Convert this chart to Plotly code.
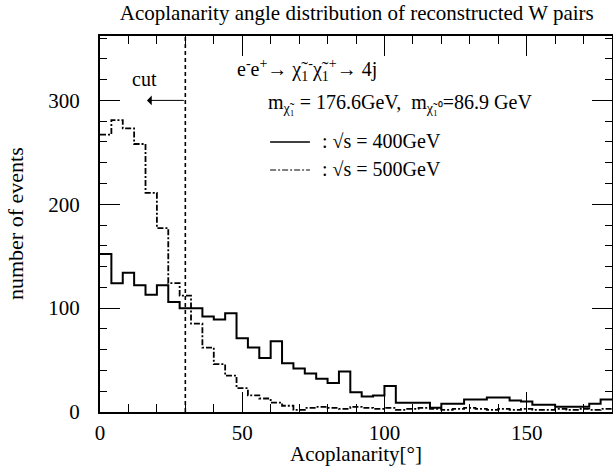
import plotly.graph_objects as go

# ---------------- data ----------------
bin_width = 4  # degrees
n_bins = 45
edges = [i * bin_width for i in range(n_bins + 1)]

counts_400 = [152, 124, 134, 122, 113, 122, 106, 100, 100, 92,
              89, 95, 71, 62, 52, 68, 47, 42, 37, 32,
              28, 39, 19, 15, 16, 25, 9, 9, 9, 4,
              8, 8, 12, 12, 14, 14, 11, 10, 7, 7,
              5, 5, 5, 8, 12]

counts_500 = [267, 281, 273, 258, 211, 177, 124, 112, 85, 62,
              46, 35, 23, 16, 13, 9, 6, 2, 4, 5,
              4, 3, 5, 4, 3, 4, 2, 3, 4, 3,
              2, 3, 4, 3, 2, 3, 2, 3, 2, 2,
              3, 2, 3, 2, 3]

cut_value = 30
x_ticks = [0, 50, 100, 150]
y_ticks = [0, 100, 200, 300]

FONT = "Liberation Serif, Times New Roman, serif"
TXT = 20

fig = go.Figure()

fig.add_trace(go.Scatter(
    x=edges, y=counts_400 + [counts_400[-1]], mode="lines",
    line=dict(shape="hv", color="black", width=2), showlegend=False))

fig.add_trace(go.Scatter(
    x=edges, y=counts_500 + [counts_500[-1]], mode="lines",
    line=dict(shape="hv", color="black", width=1.8, dash="6px,2px,2px,2px"),
    showlegend=False))

# cut line
fig.add_shape(type="line", x0=cut_value, x1=cut_value, y0=0, y1=1, yref="paper",
              line=dict(color="black", width=1.6, dash="4px,3px"))

# cut arrow
fig.add_annotation(x=16.5, y=300, ax=cut_value, ay=300, axref="x", ayref="y",
                   showarrow=True, arrowhead=1, arrowsize=1.6, arrowwidth=1,
                   arrowcolor="black", text="")
fig.add_annotation(x=15.8, y=321, text="cut", showarrow=False,
                   font=dict(family=FONT, size=TXT, color="black"))

# process text
fig.add_annotation(x=47.5, y=329, xanchor="left", showarrow=False,
                   text="e<sup>-</sup>e<sup>+</sup>→ χ̃<sub>1</sub><sup>-</sup>χ̃<sub>1</sub><sup>+</sup>→ 4j",
                   font=dict(family=FONT, size=TXT, color="black"))
fig.add_annotation(x=58.5, y=297, xanchor="left", showarrow=False,
                   text="m<sub>χ̃₁</sub> = 176.6GeV,  m<sub>χ̃₁⁰</sub>=86.9 GeV",
                   font=dict(family=FONT, size=TXT, color="black"))

# legend samples
fig.add_shape(type="line", x0=59.8, x1=73.8, y0=260, y1=260,
              line=dict(color="black", width=1.6))
fig.add_shape(type="line", x0=59.8, x1=73.8, y0=233, y1=233,
              line=dict(color="black", width=1.2, dash="6px,2px,2px,2px"))
fig.add_annotation(x=77.5, y=261, xanchor="left", showarrow=False,
                   text=": √s = 400GeV", font=dict(family=FONT, size=TXT, color="black"))
fig.add_annotation(x=77.5, y=234, xanchor="left", showarrow=False,
                   text=": √s = 500GeV", font=dict(family=FONT, size=TXT, color="black"))

# axis titles as annotations (exact placement)
fig.add_annotation(xref="paper", yref="paper", x=0.5, y=-0.113, yanchor="middle",
                   text="Acoplanarity[°]", showarrow=False,
                   font=dict(family=FONT, size=21, color="black"))
fig.add_annotation(xref="paper", yref="paper", x=-0.166, y=0.5, xanchor="center",
                   yanchor="middle", textangle=-90,
                   text="number of events", showarrow=False,
                   font=dict(family=FONT, size=22, color="black"))

fig.update_layout(
    width=613, height=468, autosize=False,
    margin=dict(l=100, r=1, t=36, b=56, autoexpand=False),
    paper_bgcolor="white", plot_bgcolor="white",
    font=dict(family=FONT, color="black"),
    title=dict(text="Acoplanarity angle distribution of reconstructed W pairs",
               x=0.582, xanchor="center", y=0.972, yanchor="middle",
               font=dict(family=FONT, size=21, color="black")),
)

fig.update_xaxes(
    range=[0, 180], tickvals=x_ticks, ticktext=[str(v) for v in x_ticks],
    ticks="inside", ticklen=20, tickwidth=1.2, tickcolor="black",
    minor=dict(dtick=10, tick0=0, ticks="inside", ticklen=8, tickwidth=1.2, tickcolor="black"),
    showline=True, linecolor="black", linewidth=2, mirror="allticks",
    showgrid=False, zeroline=False, automargin=False,
    tickfont=dict(family=FONT, size=21, color="black"), ticklabelstandoff=1,
)
fig.update_yaxes(
    range=[0, 362], tickvals=y_ticks, ticktext=[str(v) for v in y_ticks],
    ticks="inside", ticklen=20, tickwidth=1.2, tickcolor="black",
    minor=dict(dtick=20, tick0=0, ticks="inside", ticklen=7, tickwidth=1.2, tickcolor="black"),
    showline=True, linecolor="black", linewidth=2, mirror="allticks",
    showgrid=False, zeroline=False, automargin=False,
    tickfont=dict(family=FONT, size=21, color="black"), ticklabelstandoff=14,
)

fig.write_html("out.html", config={"displayModeBar": False},
               post_script="document.body.style.margin='0';")
